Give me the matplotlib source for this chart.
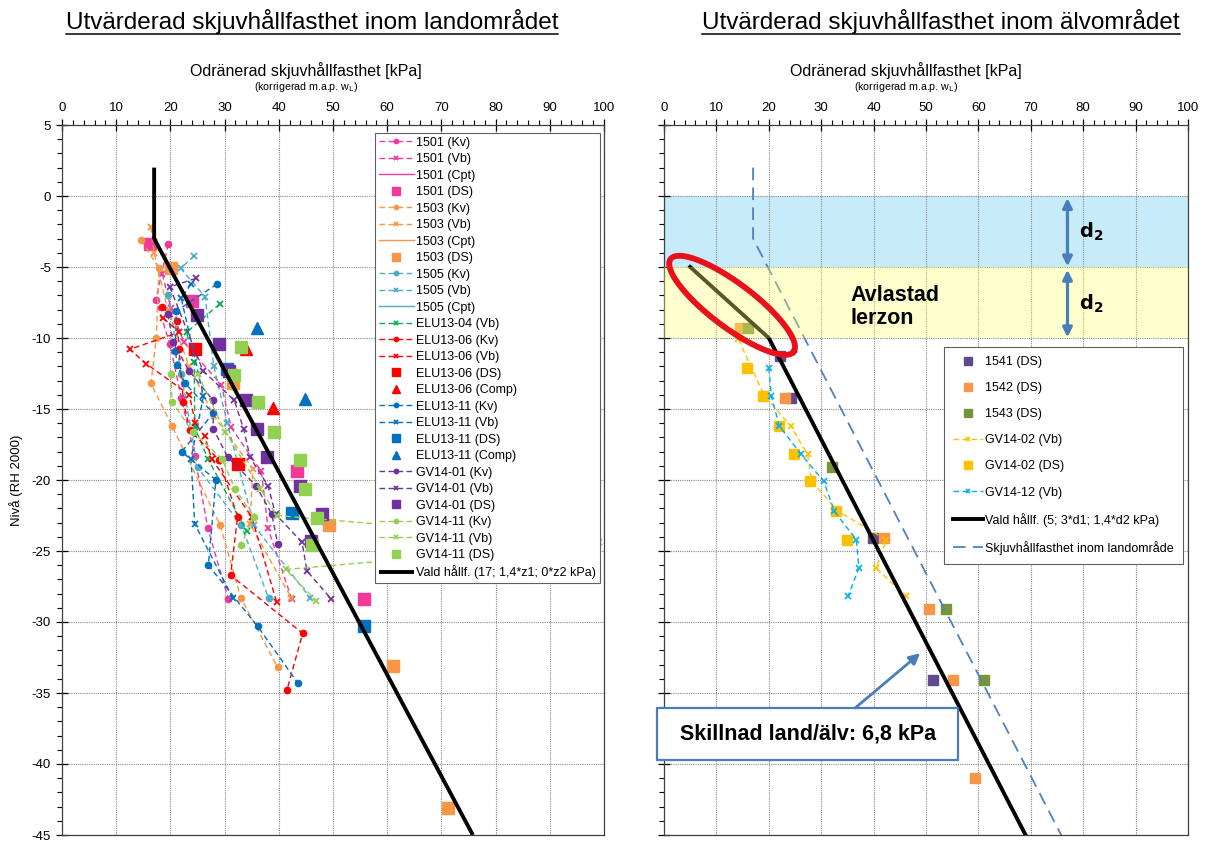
import numpy as np
import matplotlib
matplotlib.use('Agg')
import matplotlib.pyplot as plt
from matplotlib.ticker import MultipleLocator
from matplotlib.lines import Line2D
from matplotlib.patches import Rectangle

plt.rcParams['font.family'] = ['Liberation Sans', 'DejaVu Sans']
plt.rcParams['axes.unicode_minus'] = False

# ---------------- data: land area (left) ----------------
s1501_kv_x = [19.6, 17.3, 19.9, 22.0, 24.5, 26.9, 30.7]
s1501_kv_y = [-3.4, -7.3, -10.4, -14.2, -18.3, -23.4, -28.4]
s1501_vb_x = [18.5, 20.1, 22.5, 29.4, 31.2, 36.8, 38.0, 42.4]
s1501_vb_y = [-5.5, -7.9, -10.3, -13.3, -16.3, -19.4, -23.4, -28.4]
s1501_ds_x = [16.2, 24.0, 43.4, 55.7]
s1501_ds_y = [-3.4, -7.4, -19.4, -28.4]

s1503_kv_x = [14.6, 17.9, 17.4, 16.4, 20.3, 29.2, 33.0, 39.8]
s1503_kv_y = [-3.1, -5.1, -10.0, -13.2, -16.2, -23.2, -28.3, -33.2]
s1503_vb_x = [16.4, 17.0, 19.5, 23.5, 28.0, 35.2, 34.7, 42.3]
s1503_vb_y = [-2.2, -4.0, -8.0, -12.0, -15.5, -19.2, -23.1, -28.3]
s1503_ds_x = [20.2, 31.5, 49.2, 61.0, 71.2]
s1503_ds_y = [-5.1, -13.2, -23.2, -33.1, -43.1]

s1505_kv_x = [19.5, 22.0, 25.0, 33.1, 38.1]
s1505_kv_y = [-7.0, -12.5, -19.1, -23.2, -28.3]
s1505_vb_x = [24.4, 21.9, 26.4, 28.0, 30.5, 35.4, 45.8]
s1505_vb_y = [-4.2, -5.1, -7.1, -12.0, -16.0, -23.2, -28.3]

elu04_vb_x = [29.1, 23.0, 24.4, 24.5, 26.9, 34.1]
elu04_vb_y = [-7.6, -9.6, -11.7, -16.3, -18.5, -23.6]

elu06_kv_x = [18.5, 21.2, 21.6, 22.4, 23.6, 29.0, 32.4, 31.1, 44.4, 41.5]
elu06_kv_y = [-7.8, -8.8, -10.8, -14.5, -16.5, -18.6, -22.6, -26.7, -30.8, -34.8]
elu06_vb_x = [18.7, 21.6, 12.5, 15.5, 23.5, 24.6, 26.3, 27.6, 35.0, 39.6]
elu06_vb_y = [-8.6, -9.6, -10.8, -11.8, -14.0, -16.0, -16.9, -18.5, -22.6, -28.6]
elu06_ds_x = [24.6, 32.5]
elu06_ds_y = [-10.8, -18.9]
elu06_comp_x = [34.0, 38.9]
elu06_comp_y = [-10.8, -14.9]

elu11_kv_x = [28.6, 21.1, 20.9, 21.3, 22.7, 27.9, 22.1, 28.4, 27.0, 36.1, 43.5]
elu11_kv_y = [-6.2, -8.1, -10.9, -11.9, -13.2, -15.3, -18.0, -20.0, -26.0, -30.3, -34.3]
elu11_vb_x = [23.8, 22.0, 26.1, 23.8, 24.5, 31.5]
elu11_vb_y = [-6.2, -7.2, -14.1, -18.5, -23.1, -28.3]
elu11_ds_x = [30.5, 42.5, 55.7]
elu11_ds_y = [-12.2, -22.3, -30.3]
elu11_comp_x = [35.9, 44.9]
elu11_comp_y = [-9.3, -14.3]

gv01_kv_x = [19.5, 20.5, 23.4, 27.9, 27.9, 30.6, 35.8, 38.7, 39.8]
gv01_kv_y = [-8.3, -10.3, -12.3, -14.4, -16.4, -18.4, -20.4, -22.4, -24.5]
gv01_vb_x = [24.7, 19.9, 26.0, 31.8, 33.5, 34.7, 38.0, 39.4, 44.3, 45.2, 49.7]
gv01_vb_y = [-5.8, -6.4, -12.3, -14.4, -16.4, -18.4, -20.4, -22.4, -24.4, -26.4, -28.4]
gv01_ds_x = [24.9, 29.0, 30.9, 33.9, 36.0, 37.9, 43.9, 47.9, 45.9]
gv01_ds_y = [-8.4, -10.4, -12.3, -14.4, -16.4, -18.4, -20.4, -22.4, -24.3]

gv11_kv_x = [20.1, 20.3, 24.1, 29.5, 31.9, 35.4, 33.0]
gv11_kv_y = [-12.5, -14.5, -16.6, -18.5, -20.6, -22.6, -24.6]
gv11_vb_x = [25.0, 30.1, 36.6, 39.6, 99.0, 41.3, 46.9]
gv11_vb_y = [-12.5, -16.6, -20.6, -22.5, -24.4, -26.3, -28.5]
gv11_ds_x = [33.0, 31.8, 36.1, 39.1, 43.9, 44.9, 47.0, 46.1]
gv11_ds_y = [-10.6, -12.6, -14.5, -16.6, -18.6, -20.6, -22.7, -24.6]

vald_land_x = [17, 17, 75.8]
vald_land_y = [2, -3, -45]

# ---------------- data: river area (right) ----------------
s1541_ds_x = [22.1, 24.2, 39.9, 51.3]
s1541_ds_y = [-11.3, -14.2, -24.1, -34.1]
s1542_ds_x = [14.5, 23.1, 42.0, 50.5, 55.1, 59.4]
s1542_ds_y = [-9.3, -14.2, -24.1, -29.1, -34.1, -41.0]
s1543_ds_x = [16.0, 32.0, 53.8, 61.1]
s1543_ds_y = [-9.3, -19.1, -29.1, -34.1]
gv02_vb_x = [14.2, 19.2, 24.2, 27.4, 28.2, 33.2, 42.4, 40.5, 46.1]
gv02_vb_y = [-10.1, -14.1, -16.2, -18.2, -20.1, -22.2, -24.2, -26.2, -28.2]
gv02_ds_x = [15.8, 18.9, 21.9, 24.8, 27.9, 32.9, 34.9]
gv02_ds_y = [-12.1, -14.1, -16.2, -18.2, -20.1, -22.2, -24.2]
gv12_vb_x = [20.0, 20.5, 22.0, 26.2, 30.5, 32.5, 36.7, 37.2, 35.1]
gv12_vb_y = [-12.1, -14.1, -16.2, -18.2, -20.1, -22.2, -24.2, -26.2, -28.2]
vald_river_x = [5, 20, 69]
vald_river_y = [-5, -10, -45]
land_ref_x = [17, 17, 75.8]
land_ref_y = [2, -3, -45]

# colours
C1501 = '#F2389A'; C1503 = '#F79646'; C1505 = '#4BACC6'
CE04 = '#00B050'; CE06 = '#FF0000'; CE11 = '#0070C0'
CG01 = '#7030A0'; CG11 = '#92D050'

W, H = 1206, 843
fig = plt.figure(figsize=(W / 100, H / 100), dpi=100)


def ax_rect(x0, x1, ytop, ybot):
    return [x0 / W, 1 - ybot / H, (x1 - x0) / W, (ybot - ytop) / H]


axL = fig.add_axes(ax_rect(62, 604, 125, 835))
axR = fig.add_axes(ax_rect(664, 1188, 125, 835))


def style(ax, ylabels=True):
    ax.set_xlim(0, 100)
    ax.set_ylim(-45, 5)
    ax.xaxis.set_major_locator(MultipleLocator(10))
    ax.xaxis.set_minor_locator(MultipleLocator(2))
    ax.yaxis.set_major_locator(MultipleLocator(5))
    ax.yaxis.set_minor_locator(MultipleLocator(1))
    ax.xaxis.tick_top()
    ax.tick_params(axis='x', which='both', top=True, bottom=False, labeltop=True,
                   labelbottom=False, labelsize=9.5, pad=4)
    ax.tick_params(axis='x', which='major', direction='inout', length=8, width=0.9)
    ax.tick_params(axis='x', which='minor', direction='out', length=3.5, width=0.8)
    ax.tick_params(axis='y', which='both', left=True, right=False,
                   labelleft=ylabels, labelsize=9.5, pad=4)
    ax.tick_params(axis='y', which='major', direction='inout', length=8, width=0.9)
    ax.tick_params(axis='y', which='minor', direction='out', length=3.5, width=0.8)
    ax.grid(True, which='major', color='#8a8a8a', linestyle=(0, (1, 1)), linewidth=0.8)
    ax.set_axisbelow(True)
    for s in ax.spines.values():
        s.set_color('#404040')
        s.set_linewidth(0.9)


style(axL, True)
style(axR, False)

# ---------------- left panel ----------------
dash = (0, (4, 2.5))
kw_kv = dict(linestyle=dash, linewidth=1.0, marker='o', markersize=4.5)
kw_vb = dict(linestyle=dash, linewidth=1.0, marker='x', markersize=5, markeredgewidth=1.3)
kw_ds = dict(linestyle='none', marker='s', markersize=8)
kw_comp = dict(linestyle='none', marker='^', markersize=8)

axL.plot(s1501_kv_x, s1501_kv_y, color=C1501, label='1501 (Kv)', **kw_kv)
axL.plot(s1501_vb_x, s1501_vb_y, color=C1501, label='1501 (Vb)', **kw_vb)
axL.plot([], [], color=C1501, linewidth=1.0, label='1501 (Cpt)')
axL.plot(s1501_ds_x, s1501_ds_y, color=C1501, label='1501 (DS)', **kw_ds)
axL.plot(s1503_kv_x, s1503_kv_y, color=C1503, label='1503 (Kv)', **kw_kv)
axL.plot(s1503_vb_x, s1503_vb_y, color=C1503, label='1503 (Vb)', **kw_vb)
axL.plot([], [], color=C1503, linewidth=1.0, label='1503 (Cpt)')
axL.plot(s1503_ds_x, s1503_ds_y, color=C1503, label='1503 (DS)', **kw_ds)
axL.plot(s1505_kv_x, s1505_kv_y, color=C1505, label='1505 (Kv)', **kw_kv)
axL.plot(s1505_vb_x, s1505_vb_y, color=C1505, label='1505 (Vb)', **kw_vb)
axL.plot([], [], color=C1505, linewidth=1.0, label='1505 (Cpt)')
axL.plot(elu04_vb_x, elu04_vb_y, color=CE04, label='ELU13-04 (Vb)', **kw_vb)
axL.plot(elu06_kv_x, elu06_kv_y, color=CE06, label='ELU13-06 (Kv)', **kw_kv)
axL.plot(elu06_vb_x, elu06_vb_y, color=CE06, label='ELU13-06 (Vb)', **kw_vb)
axL.plot(elu06_ds_x, elu06_ds_y, color=CE06, label='ELU13-06 (DS)', **kw_ds)
axL.plot(elu06_comp_x, elu06_comp_y, color=CE06, label='ELU13-06 (Comp)', **kw_comp)
axL.plot(elu11_kv_x, elu11_kv_y, color=CE11, label='ELU13-11 (Kv)', **kw_kv)
axL.plot(elu11_vb_x, elu11_vb_y, color=CE11, label='ELU13-11 (Vb)', **kw_vb)
axL.plot(elu11_ds_x, elu11_ds_y, color=CE11, label='ELU13-11 (DS)', **kw_ds)
axL.plot(elu11_comp_x, elu11_comp_y, color=CE11, label='ELU13-11 (Comp)', **kw_comp)
axL.plot(gv01_kv_x, gv01_kv_y, color=CG01, label='GV14-01 (Kv)', **kw_kv)
axL.plot(gv01_vb_x, gv01_vb_y, color=CG01, label='GV14-01 (Vb)', **kw_vb)
axL.plot(gv01_ds_x, gv01_ds_y, color=CG01, label='GV14-01 (DS)', **kw_ds)
axL.plot(gv11_kv_x, gv11_kv_y, color=CG11, label='GV14-11 (Kv)', **kw_kv)
axL.plot(gv11_vb_x, gv11_vb_y, color=CG11, label='GV14-11 (Vb)', **kw_vb)
axL.plot(gv11_ds_x, gv11_ds_y, color=CG11, label='GV14-11 (DS)', **kw_ds)
axL.plot(vald_land_x, vald_land_y, color='black', linewidth=2.8, solid_capstyle='butt',
         label='Vald hållf. (17; 1,4*z1; 0*z2 kPa)')

legL = axL.legend(loc='upper right', bbox_to_anchor=(0.9926, 0.989), borderaxespad=0,
                  fontsize=9, labelspacing=0.36, handlelength=2.8, handletextpad=0.2,
                  markerscale=0.7, fancybox=False, edgecolor='#606060', framealpha=1,
                  borderpad=0.3)
legL.get_frame().set_linewidth(0.8)

axL.set_ylabel('Nivå (RH 2000)', fontsize=9.5, labelpad=6)

# ---------------- right panel ----------------
axR.axhspan(-5, 0, color='#C7EBF9', zorder=0.2, linewidth=0)

kw_ds_r = dict(linestyle='none', marker='s', markersize=7.5)
kw_vb_r = dict(linestyle=dash, linewidth=1.0, marker='x', markersize=4.5, markeredgewidth=1.2)
axR.plot(s1541_ds_x, s1541_ds_y, color='#5F4B8B', label='1541 (DS)', **kw_ds_r)
axR.plot(s1542_ds_x, s1542_ds_y, color='#F79646', label='1542 (DS)', **kw_ds_r)
axR.plot(s1543_ds_x, s1543_ds_y, color='#77933C', label='1543 (DS)', **kw_ds_r)
axR.plot(gv02_vb_x, gv02_vb_y, color='#FFC000', label='GV14-02 (Vb)', **kw_vb_r)
axR.plot(gv02_ds_x, gv02_ds_y, color='#FFC000', label='GV14-02 (DS)', **kw_ds_r)
axR.plot(gv12_vb_x, gv12_vb_y, color='#00B0F0', label='GV14-12 (Vb)', **kw_vb_r)
axR.plot(vald_river_x, vald_river_y, color='black', linewidth=2.8,
         label='Vald hållf. (5; 3*d1; 1,4*d2 kPa)')
axR.plot(land_ref_x, land_ref_y, color='#4F81BD', linewidth=1.3, linestyle=(0, (7, 4)),
         label='Skjuvhållfasthet inom landområde')

# semi-transparent yellow band on top of the data
axR.axhspan(-10, -5, color='#FFFF70', alpha=0.35, zorder=5, linewidth=0)

legR = axR.legend(loc='upper right', bbox_to_anchor=(0.990, 0.688), borderaxespad=0,
                  fontsize=9, labelspacing=1.13, handlelength=2.4, handletextpad=0.15,
                  markerscale=0.75, fancybox=False, edgecolor='#606060', framealpha=1,
                  borderpad=0.75)
legR.get_frame().set_linewidth(0.8)
legR.set_zorder(10)

# d2 arrows and labels
arrow_c = '#4A7EBB'
for y0, y1 in [(-0.15, -4.95), (-5.2, -9.95)]:
    axR.annotate('', xy=(77, y1), xytext=(77, y0),
                 arrowprops=dict(arrowstyle='<|-|>', color=arrow_c, lw=2.3,
                                 mutation_scale=14, shrinkA=0, shrinkB=0), zorder=8)
    axR.text(79.2, (y0 + y1) / 2, r'$\mathbf{d_2}$', fontsize=14, va='center', ha='left',
             zorder=8)

axR.text(35.5, -7.8, 'Avlastad\nlerzon', fontsize=15.5, fontweight='bold', va='center',
         ha='left', linespacing=1.15, zorder=8)

# red ellipse (pixel geometry converted to data)
cx, cy = 13.0, -7.7
ccen = axR.transData.transform((cx, cy))
th = np.deg2rad(37)
a_px, b_px = 77, 22
t = np.linspace(0, 2 * np.pi, 200)
ex = ccen[0] + a_px * np.cos(t) * np.cos(th) - b_px * np.sin(t) * np.sin(th)
ey = ccen[1] - (a_px * np.cos(t) * np.sin(th) + b_px * np.sin(t) * np.cos(th))
edata = axR.transData.inverted().transform(np.column_stack([ex, ey]))
axR.plot(edata[:, 0], edata[:, 1], color='#E8101A', linewidth=4.2, zorder=9, clip_on=False)

# text box with arrow
axR.add_patch(Rectangle((-1.3, -39.75), 57.4, 3.7, facecolor='white', edgecolor=arrow_c,
                        linewidth=1.6, zorder=11, clip_on=False))
axR.text(27.4, -37.9, 'Skillnad land/älv: 6,8 kPa', fontsize=15.5, fontweight='bold',
         ha='center', va='center', zorder=12)
axR.annotate('', xy=(48.9, -32.2), xytext=(36.5, -36.05),
             arrowprops=dict(arrowstyle='-|>', color=arrow_c, lw=2, mutation_scale=16,
                             shrinkA=0, shrinkB=0), zorder=12)

# ---------------- titles ----------------
def fx(px):
    return px / W


def fy(py):
    return 1 - py / H


tL = fig.text(fx(312), fy(22), 'Utvärderad skjuvhållfasthet inom landområdet', fontsize=17.5,
              ha='center', va='center')
tR = fig.text(fx(941), fy(22), 'Utvärderad skjuvhållfasthet inom älvområdet', fontsize=17.5,
              ha='center', va='center')
for xc in (306, 906):
    fig.text(fx(xc), fy(71), 'Odränerad skjuvhållfasthet [kPa]', fontsize=11.5, ha='center',
             va='center')
    fig.text(fx(xc), fy(87), r'(korrigerad m.a.p. w$_\mathrm{L}$)', fontsize=7.7,
             ha='center', va='center')

fig.canvas.draw()
rend = fig.canvas.get_renderer()
for t_ in (tL, tR):
    bb = t_.get_window_extent(renderer=rend)
    yline = bb.y0 + 1
    fig.add_artist(Line2D([bb.x0 / W, bb.x1 / W], [yline / H, yline / H],
                          transform=fig.transFigure, color='black', linewidth=1.1))

fig.savefig('out.png', dpi=100)
